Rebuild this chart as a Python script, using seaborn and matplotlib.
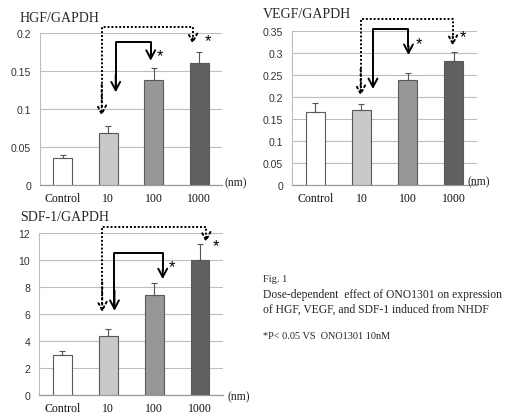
import matplotlib
matplotlib.use("Agg")
import matplotlib.pyplot as plt
import seaborn as sns
import pandas as pd
import numpy as np

categories = ["Control", "10", "100", "1000"]
hgf_vals = [0.036, 0.069, 0.138, 0.160]
hgf_err = [0.004, 0.008, 0.016, 0.015]
vegf_vals = [0.166, 0.169, 0.239, 0.282]
vegf_err = [0.020, 0.014, 0.016, 0.020]
sdf_vals = [3.0, 4.4, 7.4, 10.0]
sdf_err = [0.29, 0.47, 0.89, 1.24]

titles = ["HGF/GAPDH", "VEGF/GAPDH", "SDF-1/GAPDH"]
ylims = [(0, 0.2), (0, 0.35), (0, 12)]
ysteps = [0.05, 0.05, 2]

# annotation (arrow / star) positions, in data units
dotted_arrows = [(0.856, 0.091, 0.2075, 2.856, 0.1855),
                 (0.983, 0.202, 0.377, 2.98, 0.316),
                 (0.87, 6.14, 12.5, 3.13, 11.33)]
solid_arrows = [(1.164, 0.122, 0.1886, 1.933, 0.1636),
                (1.25, 0.2175, 0.354, 2.02, 0.295),
                (1.137, 6.25, 10.54, 2.187, 8.6)]
stars = [[(2.14, 0.170), (3.19, 0.190)],
         [(2.24, 0.320), (3.20, 0.337)],
         [(2.39, 9.5), (3.35, 11.1)]]

bar_colors = ["#ffffff", "#c9c9c9", "#979797", "#606060"]

sns.set_style("white")
serif = ["Liberation Serif", "DejaVu Serif"]
sans = ["Liberation Sans", "DejaVu Sans"]
plt.rcParams["font.family"] = serif

W, H = 510, 414
fig = plt.figure(figsize=(W / 100, H / 100), dpi=100)

def rect(l, r, top, bot):
    return [l / W, 1 - bot / H, (r - l) / W, (bot - top) / H]

axes_rects = [rect(40, 222, 34, 186), rect(292.3, 476.7, 31.7, 185.7), rect(39.3, 223, 234.3, 396)]
title_pos = [(20, 18), (263, 15), (20, 218)]
nm_pos = [(225, 183), (468, 182), (228, 397)]

all_vals = [hgf_vals, vegf_vals, sdf_vals]
all_errs = [hgf_err, vegf_err, sdf_err]

for i in range(3):
    ax = fig.add_axes(axes_rects[i])
    df = pd.DataFrame({"dose": categories, "value": all_vals[i]})
    sns.barplot(data=df, x="dose", y="value", hue="dose", palette=bar_colors,
                order=categories, width=0.41, edgecolor="#5a5a5a", linewidth=0.8,
                legend=False, ax=ax, zorder=3)
    xs = np.arange(len(categories))
    ax.errorbar(xs, all_vals[i], yerr=[np.zeros(4), all_errs[i]], fmt="none",
                ecolor="#555555", elinewidth=0.8, capsize=2.2, capthick=0.8, zorder=4)
    lo, hi = ylims[i]
    ax.set_ylim(lo, hi)
    ax.set_xlim(-0.5, 3.5)
    ticks = np.arange(lo, hi + ysteps[i] / 2, ysteps[i])
    ax.set_yticks(ticks)
    ax.set_yticklabels([f"{t:g}" for t in ticks], family=sans, fontsize=7.6, color="#333333")
    ax.set_xticks(xs)
    ax.set_xticklabels(categories, family=serif, fontsize=8.5, color="#111111")
    ax.set_xlabel("")
    ax.set_ylabel("")
    ax.yaxis.grid(True, color="#bdbdbd", linewidth=0.8, zorder=0)
    ax.set_axisbelow(True)
    for s in ["top", "right"]:
        ax.spines[s].set_visible(False)
    ax.spines["left"].set_color("#bdbdbd")
    ax.spines["left"].set_linewidth(0.8)
    ax.spines["bottom"].set_color("#9a9a9a")
    ax.spines["bottom"].set_linewidth(0.9)
    ax.tick_params(axis="y", length=3.5, width=0.8, color="#bdbdbd", pad=3)
    ax.tick_params(axis="x", length=0, pad=5)

    # arrows
    for arr, ls in [(dotted_arrows[i], (0, (1, 1))), (solid_arrows[i], "-")]:
        xl, yl_tip, ytop, xr, yr_tip = arr
        ax.plot([xl, xl, xr, xr], [yl_tip + (ytop - yl_tip) * 0.1, ytop, ytop, yr_tip + (ytop - yr_tip) * 0.3],
                color="black", linestyle=ls, linewidth=1.4, clip_on=False, zorder=5,
                solid_capstyle="butt")
        for xx, tip in [(xl, yl_tip), (xr, yr_tip)]:
            ax.annotate("", xy=(xx, tip), xytext=(xx, tip + (ytop - tip) * 0.35),
                        arrowprops=dict(arrowstyle="->,head_length=0.6,head_width=0.32",
                                        color="black", lw=1.4, linestyle=ls if ls == "-" else ":",
                                        shrinkA=0, shrinkB=0),
                        annotation_clip=False, zorder=5)
    for sx, sy in stars[i]:
        ax.text(sx, sy, "*", ha="center", va="center", fontsize=12, family=sans, color="black",
                clip_on=False)

    tx, ty = title_pos[i]
    fig.text(tx / W, 1 - ty / H, titles[i], ha="left", va="center", fontsize=10, family=serif)
    nx, ny = nm_pos[i]
    fig.text(nx / W, 1 - ny / H, "(nm)", ha="left", va="center", fontsize=8.5, family=serif)

fig.text(263 / W, 1 - 280 / H, "Fig. 1", ha="left", va="center", fontsize=7.5, family=serif)
fig.text(263 / W, 1 - 295 / H, "Dose-dependent  effect of ONO1301 on expression", ha="left", va="center",
         fontsize=8.4, family=serif)
fig.text(263 / W, 1 - 310 / H, "of HGF, VEGF, and SDF-1 induced from NHDF", ha="left", va="center",
         fontsize=8.4, family=serif)
fig.text(263 / W, 1 - 337 / H, "*P< 0.05 VS  ONO1301 10nM", ha="left", va="center",
         fontsize=7.4, family=serif)

fig.savefig("out.png", dpi=100)
